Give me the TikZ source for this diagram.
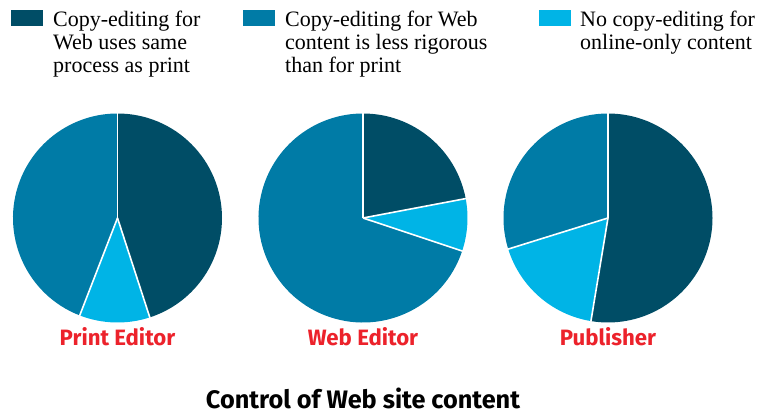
\documentclass[tikz,border=0pt]{standalone}
\usepackage{fontspec}
\setmainfont{Liberation Serif}
\newfontfamily\labfont{Fira Sans}
\definecolor{cdark}{HTML}{004D66}
\definecolor{cmed}{HTML}{007BA6}
\definecolor{clight}{HTML}{00B4E6}
\definecolor{cred}{HTML}{EC222B}
\tikzset{
  legtext/.style={anchor=base west, align=left, inner sep=0pt, font=\fontsize{22}{23}\selectfont},
  legbox/.style={inner sep=0pt, minimum width=32pt, minimum height=16pt},
  pielabel/.style={anchor=base, inner sep=0pt, text=cred, font=\labfont\bfseries\fontsize{22.2}{26}\selectfont},
  sep/.style={white, line width=1.6pt},
}
\newcommand{\slice}[5]{% center, radius, start, end, color
  \fill[#5] (#1) -- ++(#3:#2) arc[start angle=#3, end angle=#4, radius=#2] -- cycle;}
\begin{document}
\begin{tikzpicture}[x=1pt,y=1pt]
\useasboundingbox (0,0) rectangle (761,415);
% legend (anchor = baseline of last line)
\node[legbox, fill=cdark, anchor=north west] (k1) at (11,405) {};
\node[legtext] (t1) at (53,342.3) {Copy-editing for\\Web uses same\\process as print};
\node[legbox, fill=cmed, anchor=north west] (k2) at (242.5,405) {};
\node[legtext] (t2) at (285,342.3) {Copy-editing for Web\\content is less rigorous\\than for print};
\node[legbox, fill=clight, anchor=north west] (k3) at (538.5,405) {};
\node[legtext] (t3) at (580,365.3) {No copy-editing for\\online-only content};
% pies
\coordinate (p1) at (117.5,197);
\coordinate (p2) at (363,197);
\coordinate (p3) at (608,197);
% pie 1
\slice{p1}{104.5}{90}{-72}{cdark}
\slice{p1}{104.5}{-72}{-111.2}{clight}
\slice{p1}{104.5}{-111.2}{-270}{cmed}
\draw[sep] (p1) -- ++(90:105);
\draw[sep] (p1) -- ++(-72:105);
\draw[sep] (p1) -- ++(-111.2:105);
% pie 2
\slice{p2}{104.5}{90}{10.7}{cdark}
\slice{p2}{104.5}{10.7}{-18.4}{clight}
\slice{p2}{104.5}{-18.4}{-270}{cmed}
\draw[sep] (p2) -- ++(90:105);
\draw[sep] (p2) -- ++(10.7:105);
\draw[sep] (p2) -- ++(-18.4:105);
% pie 3
\slice{p3}{104.5}{90}{-99.4}{cdark}
\slice{p3}{104.5}{-99.4}{-162.7}{clight}
\slice{p3}{104.5}{-162.7}{-270}{cmed}
\draw[sep] (p3) -- ++(90:105);
\draw[sep] (p3) -- ++(-99.4:105);
\draw[sep] (p3) -- ++(-162.7:105);
% labels
\node[pielabel] (l1) at (117.5,69) {Print Editor};
\node[pielabel] (l2) at (363,69) {Web Editor};
\node[pielabel] (l3) at (608,69) {Publisher};
\node[anchor=base, inner sep=0pt, font=\labfont\bfseries\fontsize{25.3}{29}\selectfont] (title) at (363,6.5) {Control of Web site content};
\end{tikzpicture}
\end{document}
